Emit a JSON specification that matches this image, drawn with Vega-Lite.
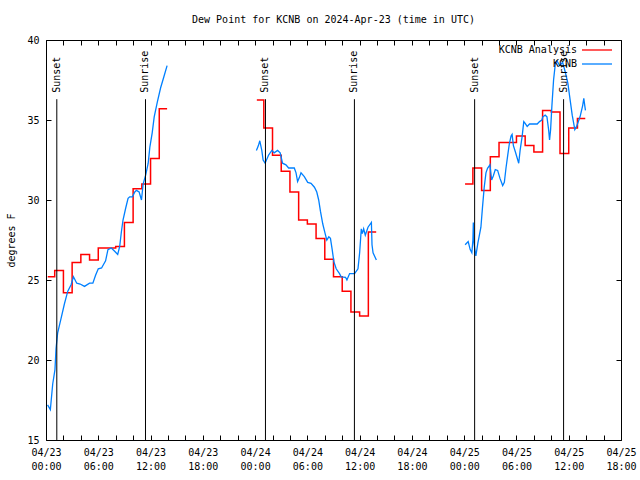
{
  "$schema": "https://vega.github.io/schema/vega-lite/v6.json",
  "width": 575,
  "height": 400,
  "autosize": "none",
  "padding": {"left": 46, "top": 40, "right": 19, "bottom": 40},
  "title": {"text": "Dew Point for KCNB on 2024-Apr-23 (time in UTC)", "font": "DejaVu Sans Mono", "fontSize": 10, "fontWeight": "normal", "anchor": "middle", "offset": 10, "color": "black"},
  "config": {
    "font": "DejaVu Sans Mono",
    "view": {"stroke": "black", "strokeWidth": 1},
    "axis": {"domain": false, "grid": false, "tickColor": "black", "tickSize": -5, "labelColor": "black", "labelFont": "DejaVu Sans Mono", "labelFontSize": 10, "titleFont": "DejaVu Sans Mono", "titleFontSize": 10, "titleFontWeight": "normal", "titleColor": "black"}
  },
  "datasets": {
    "analysis": [
      {"segment": 1, "hour": 0.2, "dewpoint": 25.2},
      {"segment": 1, "hour": 1, "dewpoint": 25.6},
      {"segment": 1, "hour": 2, "dewpoint": 24.2},
      {"segment": 1, "hour": 3, "dewpoint": 26.1},
      {"segment": 1, "hour": 4, "dewpoint": 26.6},
      {"segment": 1, "hour": 5, "dewpoint": 26.25},
      {"segment": 1, "hour": 6, "dewpoint": 27.0},
      {"segment": 1, "hour": 7, "dewpoint": 27.0},
      {"segment": 1, "hour": 8, "dewpoint": 27.1},
      {"segment": 1, "hour": 9, "dewpoint": 28.6},
      {"segment": 1, "hour": 10, "dewpoint": 30.7},
      {"segment": 1, "hour": 11, "dewpoint": 31.0},
      {"segment": 1, "hour": 12, "dewpoint": 32.6},
      {"segment": 1, "hour": 13, "dewpoint": 35.7},
      {"segment": 1, "hour": 13.9, "dewpoint": 35.7},
      {"segment": 2, "hour": 24.2, "dewpoint": 36.25},
      {"segment": 2, "hour": 25, "dewpoint": 34.5},
      {"segment": 2, "hour": 26, "dewpoint": 32.8},
      {"segment": 2, "hour": 27, "dewpoint": 31.8},
      {"segment": 2, "hour": 28, "dewpoint": 30.5},
      {"segment": 2, "hour": 29, "dewpoint": 28.75},
      {"segment": 2, "hour": 30, "dewpoint": 28.5},
      {"segment": 2, "hour": 31, "dewpoint": 27.6},
      {"segment": 2, "hour": 32, "dewpoint": 26.3},
      {"segment": 2, "hour": 33, "dewpoint": 25.2},
      {"segment": 2, "hour": 34, "dewpoint": 24.3},
      {"segment": 2, "hour": 35, "dewpoint": 23.0},
      {"segment": 2, "hour": 36, "dewpoint": 22.75},
      {"segment": 2, "hour": 37, "dewpoint": 28.0},
      {"segment": 2, "hour": 37.9, "dewpoint": 28.0},
      {"segment": 3, "hour": 48.1, "dewpoint": 31.0},
      {"segment": 3, "hour": 49, "dewpoint": 32.0},
      {"segment": 3, "hour": 50, "dewpoint": 30.6},
      {"segment": 3, "hour": 51, "dewpoint": 32.7},
      {"segment": 3, "hour": 52, "dewpoint": 33.6},
      {"segment": 3, "hour": 53, "dewpoint": 33.6},
      {"segment": 3, "hour": 54, "dewpoint": 34.0},
      {"segment": 3, "hour": 55, "dewpoint": 33.4},
      {"segment": 3, "hour": 56, "dewpoint": 33.0},
      {"segment": 3, "hour": 57, "dewpoint": 35.6},
      {"segment": 3, "hour": 58, "dewpoint": 35.5},
      {"segment": 3, "hour": 59, "dewpoint": 32.9},
      {"segment": 3, "hour": 60, "dewpoint": 34.5},
      {"segment": 3, "hour": 61, "dewpoint": 35.1},
      {"segment": 3, "hour": 61.9, "dewpoint": 35.1}
    ],
    "observed": [
      {"segment": 1, "hour": 0.18, "dewpoint": 17.2},
      {"segment": 1, "hour": 0.5, "dewpoint": 16.9},
      {"segment": 1, "hour": 0.77, "dewpoint": 18.5},
      {"segment": 1, "hour": 1.03, "dewpoint": 19.4},
      {"segment": 1, "hour": 1.15, "dewpoint": 20.7},
      {"segment": 1, "hour": 1.34, "dewpoint": 21.7},
      {"segment": 1, "hour": 1.73, "dewpoint": 22.6},
      {"segment": 1, "hour": 2.11, "dewpoint": 23.5},
      {"segment": 1, "hour": 2.5, "dewpoint": 24.3},
      {"segment": 1, "hour": 2.88, "dewpoint": 24.7},
      {"segment": 1, "hour": 3.15, "dewpoint": 25.2},
      {"segment": 1, "hour": 3.53, "dewpoint": 24.8},
      {"segment": 1, "hour": 3.92, "dewpoint": 24.75},
      {"segment": 1, "hour": 4.42, "dewpoint": 24.6},
      {"segment": 1, "hour": 5.0, "dewpoint": 24.8},
      {"segment": 1, "hour": 5.38, "dewpoint": 24.8},
      {"segment": 1, "hour": 5.69, "dewpoint": 25.3},
      {"segment": 1, "hour": 6.0, "dewpoint": 25.7},
      {"segment": 1, "hour": 6.38, "dewpoint": 25.75},
      {"segment": 1, "hour": 6.84, "dewpoint": 26.2},
      {"segment": 1, "hour": 7.11, "dewpoint": 26.9},
      {"segment": 1, "hour": 7.5, "dewpoint": 27.0},
      {"segment": 1, "hour": 7.88, "dewpoint": 26.8},
      {"segment": 1, "hour": 8.23, "dewpoint": 26.6},
      {"segment": 1, "hour": 8.46, "dewpoint": 27.1},
      {"segment": 1, "hour": 8.65, "dewpoint": 28.0},
      {"segment": 1, "hour": 8.84, "dewpoint": 28.75},
      {"segment": 1, "hour": 9.15, "dewpoint": 29.5},
      {"segment": 1, "hour": 9.42, "dewpoint": 30.1},
      {"segment": 1, "hour": 9.61, "dewpoint": 30.2},
      {"segment": 1, "hour": 9.92, "dewpoint": 30.2},
      {"segment": 1, "hour": 10.19, "dewpoint": 30.5},
      {"segment": 1, "hour": 10.38, "dewpoint": 30.6},
      {"segment": 1, "hour": 10.69, "dewpoint": 30.5},
      {"segment": 1, "hour": 10.96, "dewpoint": 30.0},
      {"segment": 1, "hour": 11.15, "dewpoint": 31.0},
      {"segment": 1, "hour": 11.46, "dewpoint": 31.6},
      {"segment": 1, "hour": 11.73, "dewpoint": 32.3},
      {"segment": 1, "hour": 11.92, "dewpoint": 33.3},
      {"segment": 1, "hour": 12.19, "dewpoint": 34.2},
      {"segment": 1, "hour": 12.42, "dewpoint": 35.2},
      {"segment": 1, "hour": 12.77, "dewpoint": 36.1},
      {"segment": 1, "hour": 13.15, "dewpoint": 37.0},
      {"segment": 1, "hour": 13.53, "dewpoint": 37.7},
      {"segment": 1, "hour": 13.9, "dewpoint": 38.4},
      {"segment": 2, "hour": 24.15, "dewpoint": 33.1},
      {"segment": 2, "hour": 24.38, "dewpoint": 33.4},
      {"segment": 2, "hour": 24.54, "dewpoint": 33.7},
      {"segment": 2, "hour": 24.77, "dewpoint": 33.1},
      {"segment": 2, "hour": 24.92, "dewpoint": 32.5},
      {"segment": 2, "hour": 25.15, "dewpoint": 32.3},
      {"segment": 2, "hour": 25.54, "dewpoint": 32.8},
      {"segment": 2, "hour": 25.92, "dewpoint": 33.1},
      {"segment": 2, "hour": 26.19, "dewpoint": 32.95},
      {"segment": 2, "hour": 26.58, "dewpoint": 33.1},
      {"segment": 2, "hour": 26.88, "dewpoint": 32.95},
      {"segment": 2, "hour": 27.15, "dewpoint": 32.3},
      {"segment": 2, "hour": 27.54, "dewpoint": 32.2},
      {"segment": 2, "hour": 27.85, "dewpoint": 32.0},
      {"segment": 2, "hour": 28.5, "dewpoint": 32.0},
      {"segment": 2, "hour": 28.7, "dewpoint": 31.7},
      {"segment": 2, "hour": 28.88, "dewpoint": 31.15},
      {"segment": 2, "hour": 29.08, "dewpoint": 31.4},
      {"segment": 2, "hour": 29.27, "dewpoint": 31.7},
      {"segment": 2, "hour": 29.65, "dewpoint": 31.46},
      {"segment": 2, "hour": 30.04, "dewpoint": 31.1},
      {"segment": 2, "hour": 30.42, "dewpoint": 31.04},
      {"segment": 2, "hour": 30.81, "dewpoint": 30.8},
      {"segment": 2, "hour": 31.08, "dewpoint": 30.5},
      {"segment": 2, "hour": 31.3, "dewpoint": 30.0},
      {"segment": 2, "hour": 31.5, "dewpoint": 29.3},
      {"segment": 2, "hour": 31.77, "dewpoint": 28.5},
      {"segment": 2, "hour": 32.04, "dewpoint": 27.9},
      {"segment": 2, "hour": 32.23, "dewpoint": 27.5},
      {"segment": 2, "hour": 32.46, "dewpoint": 27.7},
      {"segment": 2, "hour": 32.65, "dewpoint": 27.6},
      {"segment": 2, "hour": 32.85, "dewpoint": 26.9},
      {"segment": 2, "hour": 33.04, "dewpoint": 26.15},
      {"segment": 2, "hour": 33.31, "dewpoint": 25.7},
      {"segment": 2, "hour": 33.69, "dewpoint": 25.4},
      {"segment": 2, "hour": 33.88, "dewpoint": 25.2},
      {"segment": 2, "hour": 34.38, "dewpoint": 25.17},
      {"segment": 2, "hour": 34.54, "dewpoint": 25.0},
      {"segment": 2, "hour": 34.85, "dewpoint": 25.4},
      {"segment": 2, "hour": 35.42, "dewpoint": 25.4},
      {"segment": 2, "hour": 35.81, "dewpoint": 25.7},
      {"segment": 2, "hour": 36.0, "dewpoint": 26.7},
      {"segment": 2, "hour": 36.19, "dewpoint": 28.2},
      {"segment": 2, "hour": 36.31, "dewpoint": 27.9},
      {"segment": 2, "hour": 36.46, "dewpoint": 28.2},
      {"segment": 2, "hour": 36.65, "dewpoint": 27.8},
      {"segment": 2, "hour": 36.96, "dewpoint": 28.3},
      {"segment": 2, "hour": 37.35, "dewpoint": 28.6},
      {"segment": 2, "hour": 37.42, "dewpoint": 27.2},
      {"segment": 2, "hour": 37.54, "dewpoint": 26.7},
      {"segment": 2, "hour": 37.92, "dewpoint": 26.25},
      {"segment": 3, "hour": 48.11, "dewpoint": 27.2},
      {"segment": 3, "hour": 48.46, "dewpoint": 27.4},
      {"segment": 3, "hour": 48.69, "dewpoint": 26.9},
      {"segment": 3, "hour": 48.88, "dewpoint": 26.7},
      {"segment": 3, "hour": 49.0, "dewpoint": 27.5},
      {"segment": 3, "hour": 49.05, "dewpoint": 28.6},
      {"segment": 3, "hour": 49.1, "dewpoint": 27.5},
      {"segment": 3, "hour": 49.2, "dewpoint": 27.0},
      {"segment": 3, "hour": 49.34, "dewpoint": 26.5},
      {"segment": 3, "hour": 49.57, "dewpoint": 27.3},
      {"segment": 3, "hour": 49.92, "dewpoint": 28.3},
      {"segment": 3, "hour": 50.11, "dewpoint": 29.6},
      {"segment": 3, "hour": 50.3, "dewpoint": 30.8},
      {"segment": 3, "hour": 50.5, "dewpoint": 31.7},
      {"segment": 3, "hour": 50.68, "dewpoint": 31.98},
      {"segment": 3, "hour": 50.96, "dewpoint": 32.2},
      {"segment": 3, "hour": 51.15, "dewpoint": 31.25},
      {"segment": 3, "hour": 51.34, "dewpoint": 31.5},
      {"segment": 3, "hour": 51.57, "dewpoint": 31.9},
      {"segment": 3, "hour": 51.84, "dewpoint": 31.85},
      {"segment": 3, "hour": 52.11, "dewpoint": 31.35},
      {"segment": 3, "hour": 52.42, "dewpoint": 30.9},
      {"segment": 3, "hour": 52.61, "dewpoint": 31.1},
      {"segment": 3, "hour": 52.8, "dewpoint": 32.0},
      {"segment": 3, "hour": 53.0, "dewpoint": 32.8},
      {"segment": 3, "hour": 53.18, "dewpoint": 33.5},
      {"segment": 3, "hour": 53.38, "dewpoint": 34.0},
      {"segment": 3, "hour": 53.5, "dewpoint": 34.1},
      {"segment": 3, "hour": 53.65, "dewpoint": 33.4},
      {"segment": 3, "hour": 53.88, "dewpoint": 33.0},
      {"segment": 3, "hour": 54.15, "dewpoint": 32.5},
      {"segment": 3, "hour": 54.26, "dewpoint": 32.3},
      {"segment": 3, "hour": 54.42, "dewpoint": 33.1},
      {"segment": 3, "hour": 54.65, "dewpoint": 33.96},
      {"segment": 3, "hour": 54.84, "dewpoint": 34.9},
      {"segment": 3, "hour": 54.98, "dewpoint": 34.8},
      {"segment": 3, "hour": 55.23, "dewpoint": 34.6},
      {"segment": 3, "hour": 55.5, "dewpoint": 34.75},
      {"segment": 3, "hour": 55.88, "dewpoint": 34.75},
      {"segment": 3, "hour": 56.38, "dewpoint": 34.75},
      {"segment": 3, "hour": 56.65, "dewpoint": 34.9},
      {"segment": 3, "hour": 56.92, "dewpoint": 35.0},
      {"segment": 3, "hour": 57.03, "dewpoint": 35.2},
      {"segment": 3, "hour": 57.3, "dewpoint": 35.3},
      {"segment": 3, "hour": 57.5, "dewpoint": 35.2},
      {"segment": 3, "hour": 57.69, "dewpoint": 34.4},
      {"segment": 3, "hour": 57.8, "dewpoint": 33.75},
      {"segment": 3, "hour": 57.92, "dewpoint": 34.4},
      {"segment": 3, "hour": 58.07, "dewpoint": 35.9},
      {"segment": 3, "hour": 58.26, "dewpoint": 37.5},
      {"segment": 3, "hour": 58.46, "dewpoint": 38.5},
      {"segment": 3, "hour": 58.65, "dewpoint": 38.7},
      {"segment": 3, "hour": 58.96, "dewpoint": 38.4},
      {"segment": 3, "hour": 59.3, "dewpoint": 38.6},
      {"segment": 3, "hour": 59.6, "dewpoint": 38.0},
      {"segment": 3, "hour": 59.9, "dewpoint": 37.3},
      {"segment": 3, "hour": 60.2, "dewpoint": 36.1},
      {"segment": 3, "hour": 60.4, "dewpoint": 35.3},
      {"segment": 3, "hour": 60.7, "dewpoint": 34.4},
      {"segment": 3, "hour": 60.9, "dewpoint": 34.6},
      {"segment": 3, "hour": 61.3, "dewpoint": 35.2},
      {"segment": 3, "hour": 61.6, "dewpoint": 35.9},
      {"segment": 3, "hour": 61.73, "dewpoint": 36.35},
      {"segment": 3, "hour": 61.84, "dewpoint": 35.9},
      {"segment": 3, "hour": 61.92, "dewpoint": 35.6}
    ],
    "events": [
      {"hour": 1.24, "event": "Sunset"},
      {"hour": 11.42, "event": "Sunrise"},
      {"hour": 25.19, "event": "Sunset"},
      {"hour": 35.4, "event": "Sunrise"},
      {"hour": 49.2, "event": "Sunset"},
      {"hour": 59.41, "event": "Sunrise"}
    ]
  },
  "resolve": {"axis": {"x": "independent", "y": "independent"}},
  "layer": [
    {
      "data": {"name": "analysis"},
      "mark": {"type": "line", "interpolate": "step-after", "strokeWidth": 1.5},
      "encoding": {
        "x": {"field": "hour", "type": "quantitative", "scale": {"domain": [0, 66], "nice": false, "zero": false},
              "axis": {"orient": "top", "values": [0,2,4,6,8,10,12,14,16,18,20,22,24,26,28,30,32,34,36,38,40,42,44,46,48,50,52,54,56,58,60,62,64,66], "labels": false, "title": null}},
        "y": {"field": "dewpoint", "type": "quantitative", "scale": {"domain": [15, 40], "nice": false, "zero": false},
              "axis": {"orient": "right", "values": [15, 20, 25, 30, 35, 40], "labels": false, "title": null}},
        "detail": {"field": "segment"},
        "color": {"datum": "KCNB Analysis", "type": "nominal",
                  "scale": {"domain": ["KCNB Analysis", "KCNB"], "range": ["#ff0000", "#0080ff"]},
                  "legend": {"orient": "none", "legendX": 545, "legendY": 4, "title": null, "symbolType": "M-3,0H3", "symbolSize": 100, "symbolStrokeWidth": 1.3, "labelAlign": "right", "labelOffset": -26, "labelFont": "DejaVu Sans Mono", "labelFontSize": 10, "labelColor": "black", "rowPadding": 3, "padding": 0}}
      }
    },
    {
      "data": {"name": "observed"},
      "mark": {"type": "line", "strokeWidth": 1.3},
      "encoding": {
        "x": {"field": "hour", "type": "quantitative", "scale": {"domain": [0, 66], "nice": false, "zero": false},
              "axis": {"orient": "bottom", "values": [0,2,4,6,8,10,12,14,16,18,20,22,24,26,28,30,32,34,36,38,40,42,44,46,48,50,52,54,56,58,60,62,64,66],
                       "labelExpr": "datum.value % 6 == 0 ? ['04/' + (23 + floor(datum.value / 24)), (datum.value % 24 < 10 ? '0' : '') + (datum.value % 24) + ':00'] : ''",
                       "labelOverlap": false, "labelFlush": false, "labelBound": false, "labelLineHeight": 14, "labelPadding": 12, "title": null}},
        "y": {"field": "dewpoint", "type": "quantitative", "scale": {"domain": [15, 40], "nice": false, "zero": false},
              "axis": {"orient": "left", "values": [15, 20, 25, 30, 35, 40], "labelPadding": 12, "title": "degrees F", "titlePadding": 10}},
        "detail": {"field": "segment"},
        "color": {"datum": "KCNB", "type": "nominal"}
      }
    },
    {
      "data": {"name": "events"},
      "mark": {"type": "rule", "color": "black", "strokeWidth": 1},
      "encoding": {
        "x": {"field": "hour", "type": "quantitative", "axis": null},
        "y": {"datum": 36.3, "type": "quantitative", "axis": null},
        "y2": {"datum": 15}
      }
    },
    {
      "data": {"name": "events"},
      "mark": {"type": "text", "angle": 270, "align": "left", "baseline": "middle", "font": "DejaVu Sans Mono", "fontSize": 10, "color": "black"},
      "encoding": {
        "x": {"field": "hour", "type": "quantitative", "axis": null},
        "y": {"datum": 36.7, "type": "quantitative", "axis": null},
        "text": {"field": "event"}
      }
    }
  ]
}
